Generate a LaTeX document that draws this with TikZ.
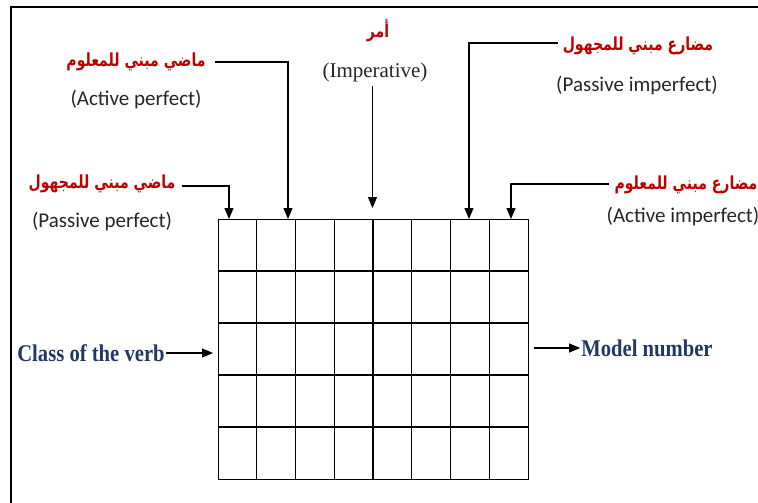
\documentclass[tikz,border=0pt]{standalone}
\usepackage{fontspec}
\setmainfont{Liberation Serif}
\newfontfamily\arabicfont[Script=Arabic,FakeStretch=0.78]{DejaVu Sans}
\newfontfamily\calib{Carlito}
\newfontfamily\narrowserif[FakeStretch=0.86]{Liberation Serif}
\TeXXeTstate=1
\usetikzlibrary{arrows.meta,calc}
\definecolor{arred}{HTML}{C00000}
\definecolor{navyblue}{HTML}{1F3864}
\begin{document}
\begin{tikzpicture}[x=1pt,y=-1pt,
  ar/.style={font=\arabicfont\bfseries\fontsize{18}{20}\selectfont, text=arred, inner sep=1pt},
  en/.style={font=\calib\fontsize{21}{24}\selectfont, text=black!85, inner sep=1pt},
  tm/.style={font=\fontsize{21}{24}\selectfont, text=black!85, inner sep=1pt},
  nv/.style={font=\narrowserif\bfseries\fontsize{24}{28}\selectfont, text=navyblue, inner sep=1pt},
  conn/.style={line width=1.2pt, -{Triangle[width=9pt,length=11pt]}},
  gridline/.style={line width=1.2pt}]
\useasboundingbox (0,0) rectangle (758,503);
% frame
\draw[line width=2pt] (10.5,503) -- (10.5,7.5) -- (758,7.5);
% grid
\node[draw, gridline, minimum width=310pt, minimum height=260pt, anchor=north west, inner sep=0pt] (grid) at (218,219) {};
\foreach \i in {1,...,7}
  \draw[gridline] ($(grid.north west)+(\i*38.75,0)$) -- ($(grid.south west)+(\i*38.75,0)$);
\foreach \j in {1,...,4}
  \draw[gridline] ($(grid.north west)+(0,\j*52)$) -- ($(grid.north east)+(0,\j*52)$);
% arrow targets
\coordinate (tPP) at (229,219);
\coordinate (tAP) at (288,219);
\coordinate (tIM) at (372.5,208);
\coordinate (tPI) at (469,219);
\coordinate (tAI) at (511,219);
% labels
\node[ar] (apA) at (136,62) {\beginR ماضي مبني للمعلوم\endR};
\node[en] (apE) at (136,100) {(Active perfect)};
\node[ar] (ppA) at (102,184) {\beginR ماضي مبني للمجهول\endR};
\node[en] (ppE) at (102,222) {(Passive perfect)};
\node[ar] (imA) at (378,31) {\beginR أمر\endR};
\node[tm] (imE) at (375,72) {(Imperative)};
\node[ar] (piA) at (638,46) {\beginR مضارع مبني للمجهول\endR};
\node[en] (piE) at (637,86) {(Passive imperfect)};
\node[ar] (aiA) at (686,185) {\beginR مضارع مبني للمعلوم\endR};
\node[en] (aiE) at (683,217) {(Active imperfect)};
\node[nv] (cls) at (91,353) {Class of the verb};
\node[nv] (mdl) at (647,348) {Model number};
% connectors
\draw[conn] ([xshift=8pt]apA.east) -| (tAP);
\draw[conn] ([xshift=5pt,yshift=-2pt]ppA.east) -| (tPP);
\draw[conn] ([yshift=-3pt]imE.south -| tIM) -- (tIM);
\draw[conn] ([xshift=-4pt,yshift=3pt]piA.west) -| (tPI);
\draw[conn] ([xshift=-4pt,yshift=1pt]aiA.west) -| (tAI);
\draw[conn] (cls.east) -- ([xshift=-5pt]grid.west |- cls.east);
\draw[conn] ([xshift=5pt]grid.east |- mdl.west) -- (mdl.west);
\end{tikzpicture}
\end{document}
